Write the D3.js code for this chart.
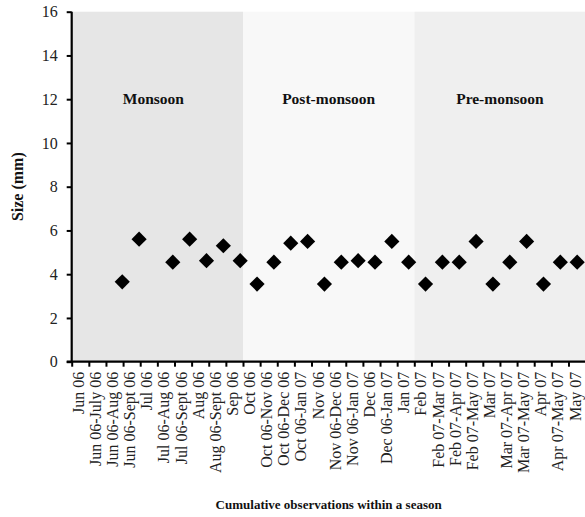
<!DOCTYPE html>
<html>
<head>
<meta charset="utf-8">
<script src="https://cdn.jsdelivr.net/npm/d3@7/dist/d3.min.js"></script>
<style>
  html, body { margin: 0; padding: 0; background: #fff; }
  svg { display: block; font-family: "Liberation Serif", "Times New Roman", serif; }
</style>
</head>
<body>
<svg id="chart" width="585" height="517"></svg>
<script>
// Sampling periods (single months and cumulative spans) along the x axis
const categories = [
  "Jun 06", "Jun 06-July 06", "Jun 06-Aug 06", "Jun 06-Sept 06", "Jul 06",
  "Jul 06-Aug 06", "Jul 06-Sept 06", "Aug 06", "Aug 06-Sept 06", "Sep 06",
  "Oct 06", "Oct 06-Nov 06", "Oct 06-Dec 06", "Oct 06-Jan 07", "Nov 06",
  "Nov 06-Dec 06", "Nov 06-Jan 07", "Dec 06", "Dec 06-Jan 07", "Jan 07",
  "Feb 07", "Feb 07-Mar 07", "Feb 07-Apr 07", "Feb 07-May 07", "Mar 07",
  "Mar 07-Apr 07", "Mar 07-May 07", "Apr 07", "Apr 07-May 07", "May 07"
];

// Seasons: name, first and last period
const seasonNames = ["Monsoon", "Post-monsoon", "Pre-monsoon"];
const seasonFirst = ["Jun 06", "Oct 06", "Feb 07"];
const seasonLast  = ["Sep 06", "Jan 07", "May 07"];

// Observed size (mm) per period
const pointPeriods = [
  "Jun 06-Aug 06", "Jun 06-Sept 06", "Jul 06-Aug 06", "Jul 06-Sept 06",
  "Aug 06", "Aug 06-Sept 06", "Sep 06",
  "Oct 06", "Oct 06-Nov 06", "Oct 06-Dec 06", "Oct 06-Jan 07", "Nov 06",
  "Nov 06-Dec 06", "Nov 06-Jan 07", "Dec 06", "Dec 06-Jan 07", "Jan 07",
  "Feb 07", "Feb 07-Mar 07", "Feb 07-Apr 07", "Feb 07-May 07", "Mar 07",
  "Mar 07-Apr 07", "Mar 07-May 07", "Apr 07", "Apr 07-May 07", "May 07"
];
const sizeValues = [
  3.65, 5.6, 4.55, 5.6, 4.62, 5.3, 4.62,
  3.55, 4.55, 5.42, 5.5, 3.55, 4.55, 4.62, 4.55, 5.5, 4.55,
  3.55, 4.55, 4.55, 5.5, 3.55, 4.55, 5.5, 3.55, 4.55, 4.55
];

// Y axis ticks
const yTicks = [0, 2, 4, 6, 8, 10, 12, 14, 16];

const seasonFills = ["#e6e6e6", "#f8f8f8", "#efefef"];

const svg = d3.select("#chart");
const plotLeft = 71.7, plotTop = 11.7, plotBottom = 361.7;
const plotRight = plotLeft + categories.length * 17.13;

const x = d3.scaleBand().domain(categories).range([plotLeft, plotRight]).padding(0);
const xEdge = d3.scaleLinear().domain([0, categories.length]).range([plotLeft, plotRight]);
// observation sequence number (1..n) mapped across the plot
const xObs = d3.scaleLinear().domain([0, categories.length + 0.5]).range([plotLeft, plotRight]);
const y = d3.scaleLinear().domain([0, 16]).range([plotBottom, plotTop]);

// season shading
seasonNames.forEach((name, i) => {
  const x0 = x(seasonFirst[i]);
  const x1 = x(seasonLast[i]) + x.bandwidth();
  svg.append("rect")
    .attr("x", x0).attr("y", y(16))
    .attr("width", x1 - x0).attr("height", y(0) - y(16))
    .attr("fill", seasonFills[i]);
  svg.append("text")
    .attr("x", (x0 + x1) / 2 - (i === 0 ? 4 : 0)).attr("y", y(12) + 5)
    .attr("text-anchor", "middle")
    .attr("font-weight", "bold").attr("font-size", 15.5)
    .attr("fill", "#111")
    .text(name);
});

// points
const diamond = d3.symbol().type(d3.symbolSquare).size(115);
svg.append("g").selectAll("path")
  .data(pointPeriods.map((p, i) => ({ p, v: sizeValues[i] })))
  .join("path")
  .attr("d", diamond)
  .attr("transform", d => `translate(${xObs(categories.indexOf(d.p) + 1)},${y(d.v)}) rotate(45)`)
  .attr("fill", "#000");

// y axis
const yAxis = svg.append("g")
  .attr("transform", `translate(${plotLeft},0)`)
  .call(d3.axisLeft(y).tickValues(yTicks).tickSize(5).tickPadding(9));
yAxis.select(".domain").attr("stroke", "#000").attr("stroke-width", 2.2).attr("d", `M0,${plotTop}V${plotBottom}`);
yAxis.selectAll(".tick line").attr("stroke", "#000").attr("stroke-width", 2);
yAxis.selectAll(".tick text").attr("font-size", 16).attr("fill", "#222")
  .attr("font-family", "Liberation Serif, serif");

// x axis: edge ticks
const xTickAxis = svg.append("g")
  .attr("transform", `translate(0,${plotBottom})`)
  .call(d3.axisBottom(xEdge).tickValues(d3.range(0, categories.length + 1)).tickFormat("").tickSize(5));
xTickAxis.select(".domain").attr("stroke", "#000").attr("stroke-width", 2.2)
  .attr("d", `M${plotLeft - 5},0H${plotRight}`);
xTickAxis.selectAll(".tick line").attr("stroke", "#000").attr("stroke-width", 2);

// x axis: period labels
const xLabelAxis = svg.append("g")
  .attr("transform", `translate(0,${plotBottom})`)
  .call(d3.axisBottom(x).tickSize(0).tickPadding(0));
xLabelAxis.select(".domain").remove();
xLabelAxis.selectAll(".tick text")
  .attr("font-size", 16).attr("fill", "#222")
  .attr("font-family", "Liberation Serif, serif")
  .attr("text-anchor", "end")
  .attr("transform", "rotate(-90)")
  .attr("x", -10).attr("y", 0).attr("dy", "0.22em");

// axis titles
svg.append("text")
  .attr("transform", `translate(23,${y(8)}) rotate(-90)`)
  .attr("text-anchor", "middle")
  .attr("font-weight", "bold").attr("font-size", 16).attr("fill", "#111")
  .text("Size (mm)");

svg.append("text")
  .attr("x", (plotLeft + plotRight) / 2).attr("y", 509)
  .attr("text-anchor", "middle")
  .attr("font-weight", "bold").attr("font-size", 13).attr("fill", "#111")
  .text("Cumulative observations within a season");
</script>
</body>
</html>
